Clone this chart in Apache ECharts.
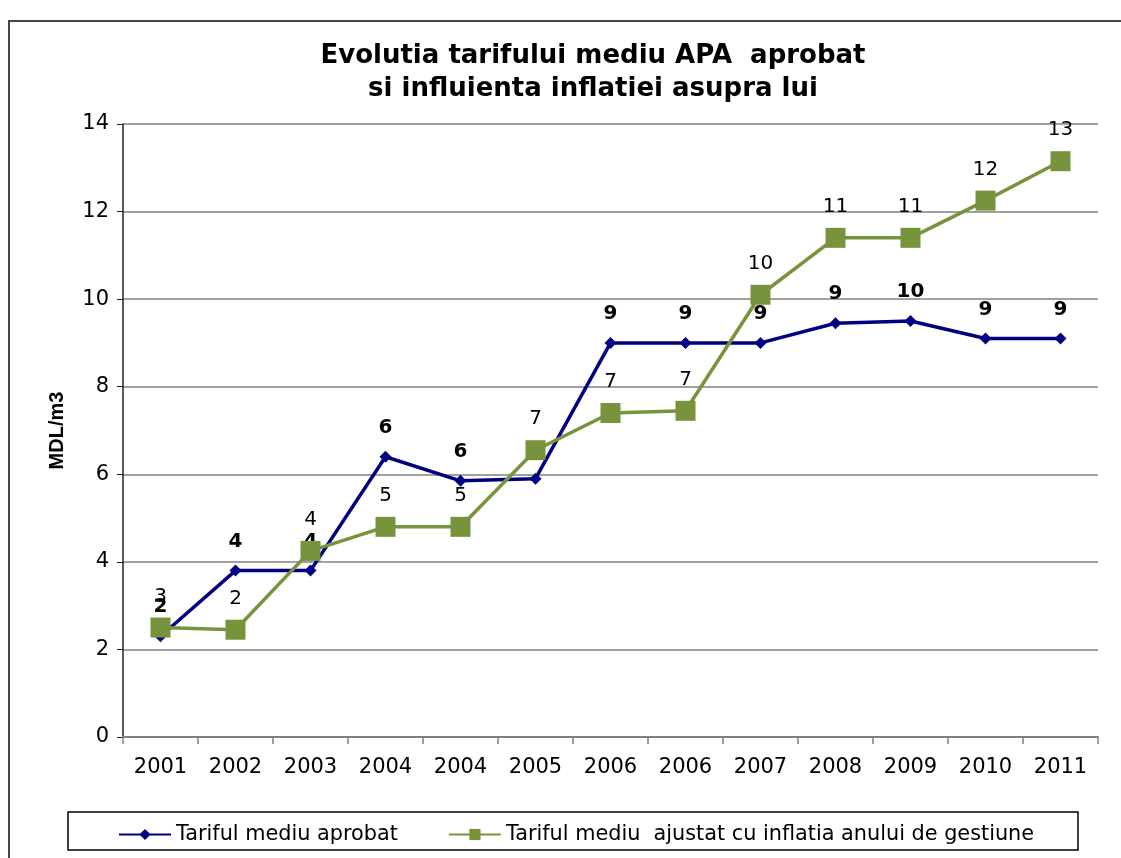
<!DOCTYPE html>
<html>
<head>
<meta charset="utf-8">
<script src="https://cdn.jsdelivr.net/npm/echarts@6/dist/echarts.min.js"></script>
<style>
  html, body { margin: 0; padding: 0; background: #fff; }
  #chart { width: 1121px; height: 858px; }
</style>
</head>
<body>
<div id="chart"></div>
<script>
// categories (years repeat in the source, kept as-is)
var years = ['2001', '2002', '2003', '2004', '2004', '2005', '2006', '2006', '2007', '2008', '2009', '2010', '2011']
// Tariful mediu aprobat
var tarifAprobat = [2.3, 3.8, 3.8, 6.4, 5.85, 5.9, 9.0, 9.0, 9.0, 9.45, 9.5, 9.1, 9.1]
// Tariful mediu ajustat cu inflatia
var tarifAjustat = [2.5, 2.45, 4.25, 4.8, 4.8, 6.55, 7.4, 7.45, 10.1, 11.4, 11.4, 12.25, 13.15]

var FONT = '"DejaVu Sans", sans-serif'
var FONT_NAME = '"Liberation Sans", Arial, sans-serif'

var chart = echarts.init(document.getElementById('chart'))

chart.setOption({
  backgroundColor: '#fff',
  animation: false,
  textStyle: { fontFamily: FONT },
  title: {
    text: 'Evolutia tarifului mediu APA  aprobat\nsi influienta inflatiei asupra lui',
    left: 593,
    top: 40,
    padding: 0,
    textAlign: 'center',
    textStyle: {
      fontFamily: FONT,
      fontSize: 26,
      fontWeight: 'bold',
      color: '#000',
      lineHeight: 33
    }
  },
  graphic: [
    {
      type: 'rect',
      shape: { x: 9, y: 21, width: 1130, height: 860 },
      style: { fill: 'none', stroke: '#444', lineWidth: 2 },
      silent: true
    },
    {
      type: 'rect',
      shape: { x: 68, y: 812, width: 1010, height: 38 },
      style: { fill: 'none', stroke: '#000', lineWidth: 1.5 },
      silent: true
    }
  ],
  legend: {
    left: 113,
    top: 819,
    itemWidth: 52,
    itemHeight: 14,
    itemGap: 50,
    textStyle: { fontFamily: FONT, fontSize: 20.8, color: '#000' },
    data: ['Tariful mediu aprobat', 'Tariful mediu  ajustat cu inflatia anului de gestiune']
  },
  grid: {
    left: 123,
    right: 23,
    top: 124,
    bottom: 121,
    containLabel: false
  },
  xAxis: {
    type: 'category',
    data: years,
    boundaryGap: true,
    axisLine: { lineStyle: { color: '#808080', width: 2 } },
    axisTick: { show: true, length: 7, lineStyle: { color: '#808080', width: 1.5 } },
    axisLabel: { fontFamily: FONT, fontSize: 21, color: '#000', margin: 20, interval: 0 }
  },
  yAxis: {
    type: 'value',
    min: 0,
    max: 14,
    interval: 2,
    name: 'MDL/m3',
    nameLocation: 'middle',
    nameGap: 56,
    nameTextStyle: { fontFamily: FONT_NAME, fontSize: 20, fontWeight: 'bold', color: '#000' },
    axisLine: { show: true, lineStyle: { color: '#222', width: 1.5 } },
    axisTick: { show: true, length: 6, lineStyle: { color: '#222' } },
    axisLabel: { fontFamily: FONT, fontSize: 21, color: '#000', margin: 14 },
    splitLine: { show: true, lineStyle: { color: '#808080', width: 1.5 } }
  },
  series: [
    {
      name: 'Tariful mediu aprobat',
      type: 'line',
      data: tarifAprobat,
      symbol: 'diamond',
      symbolSize: 12,
      color: '#000080',
      lineStyle: { color: '#000080', width: 3.5 },
      itemStyle: { color: '#000080' },
      label: {
        show: true,
        position: 'top',
        distance: 13,
        fontFamily: FONT,
        fontSize: 20,
        fontWeight: 'bold',
        color: '#000',
        formatter: function (p) { return Math.round(p.value) }
      },
      z: 3
    },
    {
      name: 'Tariful mediu  ajustat cu inflatia anului de gestiune',
      type: 'line',
      data: tarifAjustat,
      symbol: 'rect',
      symbolSize: 20,
      color: '#77933C',
      lineStyle: { color: '#77933C', width: 3.5 },
      itemStyle: { color: '#77933C' },
      label: {
        show: true,
        position: 'top',
        distance: 11,
        fontFamily: FONT,
        fontSize: 20,
        color: '#000',
        formatter: function (p) { return Math.round(p.value) }
      },
      z: 4
    }
  ]
})
</script>
</body>
</html>
